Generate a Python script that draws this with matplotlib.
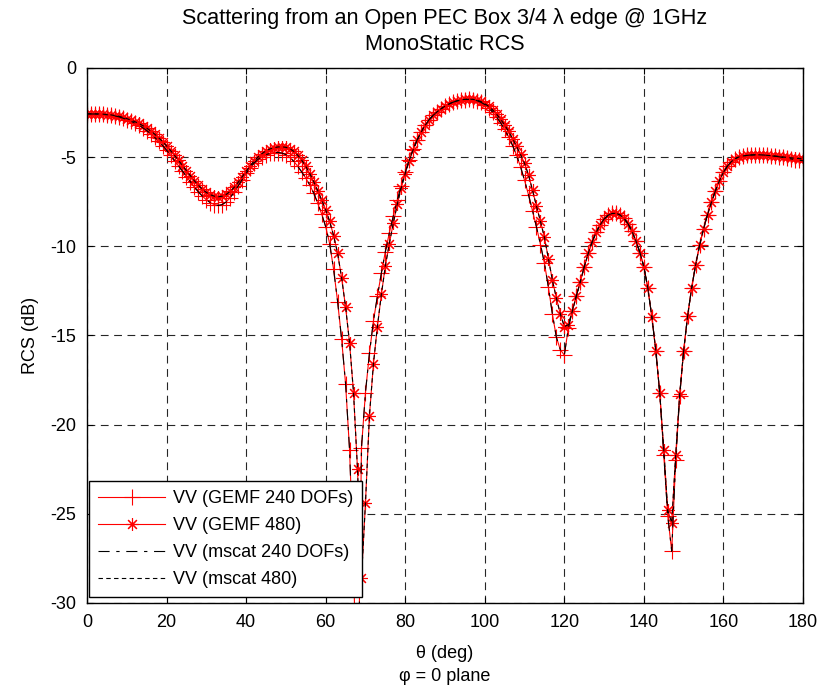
import numpy as np
import matplotlib
matplotlib.use("Agg")
import matplotlib.pyplot as plt

# monostatic RCS (dB) sampled every degree, 0..180
theta = list(range(0, 181))

rcs_gemf_240 = [
    -2.58, -2.58, -2.58, -2.59, -2.60, -2.62, -2.65, -2.69, -2.74, -2.81,
    -2.89, -2.98, -3.09, -3.21, -3.35, -3.51, -3.69, -3.89, -4.11, -4.35,
    -4.61, -4.89, -5.19, -5.49, -5.79, -6.09, -6.39, -6.68, -6.95, -7.19,
    -7.39, -7.55, -7.66, -7.71, -7.66, -7.51, -7.27, -6.97, -6.62, -6.26,
    -5.91, -5.60, -5.33, -5.12, -4.97, -4.86, -4.79, -4.75, -4.74, -4.77,
    -4.86, -5.02, -5.24, -5.52, -5.84, -6.18, -6.56, -7.02, -7.58, -8.20,
    -8.90, -9.85, -11.3, -13.1, -15.2, -17.7, -21.4, -27.6, -38.0, -21.3,
    -18.2, -16.0, -14.2, -12.8, -11.5, -10.3, -9.25, -8.30, -7.42, -6.60,
    -5.85, -5.17, -4.56, -4.03, -3.58, -3.20, -2.90, -2.66, -2.46, -2.29,
    -2.14, -2.02, -1.92, -1.85, -1.80, -1.77, -1.76, -1.78, -1.83, -1.92,
    -2.05, -2.24, -2.48, -2.76, -3.08, -3.45, -3.87, -4.35, -4.90, -5.55,
    -6.30, -7.12, -8.00, -8.92, -9.90, -10.95, -12.30, -13.80, -15.10, -15.80,
    -16.10, -14.60, -13.60, -12.80, -12.00, -11.15, -10.40, -9.75, -9.22, -8.80,
    -8.47, -8.26, -8.16, -8.15, -8.24, -8.43, -8.73, -9.15, -9.70, -10.35,
    -11.15, -12.35, -13.95, -15.85, -18.25, -21.70, -25.10, -27.10, -22.00, -18.40,
    -15.85, -13.90, -12.35, -11.05, -9.95, -9.02, -8.22, -7.52, -6.88, -6.32,
    -5.85, -5.50, -5.25, -5.08, -4.98, -4.93, -4.90, -4.88, -4.87, -4.87,
    -4.88, -4.90, -4.93, -4.95, -4.98, -5.02, -5.06, -5.10, -5.14, -5.17,
    -5.20,
]

rcs_gemf_480 = [
    -2.57, -2.57, -2.57, -2.58, -2.59, -2.61, -2.63, -2.67, -2.71, -2.77,
    -2.84, -2.92, -3.01, -3.11, -3.23, -3.37, -3.53, -3.71, -3.91, -4.13,
    -4.37, -4.63, -4.90, -5.18, -5.47, -5.76, -6.05, -6.33, -6.58, -6.80,
    -6.98, -7.11, -7.19, -7.22, -7.19, -7.09, -6.92, -6.69, -6.41, -6.10,
    -5.79, -5.49, -5.22, -4.99, -4.80, -4.65, -4.54, -4.47, -4.43, -4.42,
    -4.45, -4.53, -4.68, -4.90, -5.18, -5.52, -5.92, -6.38, -6.88, -7.40,
    -7.95, -8.60, -9.40, -10.40, -11.75, -13.40, -15.40, -18.20, -22.50, -28.60,
    -24.40, -19.50, -16.60, -14.50, -12.70, -11.10, -9.85, -8.70, -7.65, -6.72,
    -5.92, -5.20, -4.58, -4.05, -3.60, -3.22, -2.91, -2.66, -2.46, -2.29,
    -2.14, -2.02, -1.92, -1.84, -1.79, -1.76, -1.75, -1.76, -1.80, -1.88,
    -2.00, -2.16, -2.36, -2.60, -2.88, -3.20, -3.56, -3.96, -4.40, -4.85,
    -5.35, -6.00, -6.85, -7.75, -8.60, -9.50, -10.70, -11.90, -12.90, -13.80,
    -14.50, -14.40, -13.65, -12.80, -12.00, -11.15, -10.40, -9.75, -9.22, -8.80,
    -8.47, -8.26, -8.16, -8.15, -8.24, -8.43, -8.73, -9.15, -9.70, -10.35,
    -11.15, -12.35, -13.95, -15.85, -18.25, -21.40, -24.80, -25.50, -21.70, -18.30,
    -15.85, -13.90, -12.35, -11.05, -9.95, -9.02, -8.22, -7.52, -6.88, -6.32,
    -5.85, -5.50, -5.25, -5.08, -4.98, -4.93, -4.90, -4.88, -4.87, -4.87,
    -4.88, -4.90, -4.92, -4.94, -4.96, -4.99, -5.02, -5.04, -5.06, -5.08,
    -5.10,
]

# mscat reference runs overlay the GEMF results
rcs_mscat_240 = list(rcs_gemf_240)
rcs_mscat_480 = list(rcs_gemf_480)

labels = ["VV (GEMF 240 DOFs)", "VV (GEMF 480)", "VV (mscat 240 DOFs)", "VV (mscat 480)"]

plt.rcParams["font.family"] = ["Liberation Sans", "DejaVu Sans"]
plt.rcParams["font.size"] = 13
plt.rcParams["axes.unicode_minus"] = False

fig = plt.figure(figsize=(8.25, 6.95), dpi=100)
ax = fig.add_axes([0.1055, 0.1324, 0.8678, 0.7698])

asterisk = (8, 2, 0)
ax.plot(theta, rcs_gemf_240, color="red", lw=0.8, marker="+", ms=11, mew=0.8, label=labels[0])
ax.plot(theta, rcs_gemf_480, color="red", lw=0.8, marker=asterisk, ms=9, mew=0.8, label=labels[1])
ax.plot(theta, rcs_mscat_240, color="black", lw=0.8, ls=(0, (10, 6, 3, 6)), label=labels[2])
ax.plot(theta, rcs_mscat_480, color="black", lw=0.8, ls=(0, (4, 3)), label=labels[3])

ax.set_xlim(0, 180)
ax.set_ylim(-30, 0)
ax.set_xticks(np.arange(0, 181, 20))
ax.set_yticks(np.arange(-30, 1, 5))
ax.tick_params(direction="in", length=4, width=0.8, top=True, right=True)
ax.tick_params(axis="x", pad=8)
ax.tick_params(axis="y", pad=8)
ax.grid(True, color="0.15", lw=0.8, ls=(0, (7, 5)))
for s in ax.spines.values():
    s.set_linewidth(1.0)

ax.set_title("Scattering from an Open PEC Box 3/4 \u03bb edge @ 1GHz\nMonoStatic RCS",
             pad=13, linespacing=1.3)
ax.set_xlabel("\u03b8 (deg)\n\u03c6 = 0 plane", linespacing=1.5, labelpad=10)
ax.set_ylabel("RCS (dB)", labelpad=8)

leg = ax.legend(loc="lower left", bbox_to_anchor=(0.003, 0.011), borderaxespad=0,
                fancybox=False, framealpha=1, edgecolor="black", numpoints=1,
                handlelength=3.7, handletextpad=0.45, labelspacing=0.55, borderpad=0.5)
leg.get_frame().set_linewidth(1.0)

fig.savefig("out.png", dpi=100)
